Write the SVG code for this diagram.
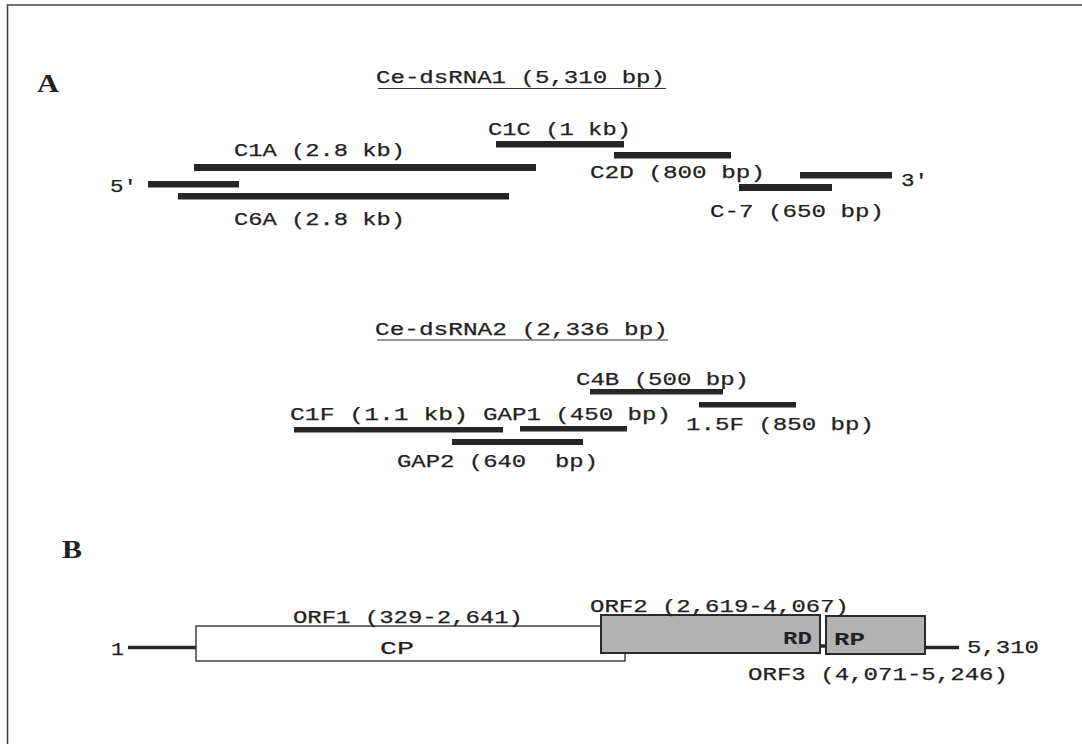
<svg xmlns="http://www.w3.org/2000/svg" width="1082" height="744" viewBox="0 0 1082 744">
<style>
.t{font-family:"Liberation Mono","DejaVu Sans Mono",monospace;font-size:19px;fill:#222;stroke:#222;stroke-width:0.25}
.b{font-family:"Liberation Mono","DejaVu Sans Mono",monospace;font-size:19px;font-weight:bold;fill:#222}
.p{font-family:"Liberation Serif","Times New Roman",serif;font-size:25px;font-weight:bold;fill:#222}
.bar{fill:#262626}
.ul{stroke:#333;stroke-width:1.2}
.box{stroke:#2a2a2a;stroke-width:2}
.ln{stroke:#262626;stroke-width:3.5}
</style>
<rect width="1082" height="744" fill="#fff"/>
<g id="frame" fill="none" stroke="#444" stroke-width="1.6">
<path d="M7.5,744 V5 H1082"/>
</g>
<g id="panelA">
<text class="p" x="37" y="92" textLength="22" lengthAdjust="spacingAndGlyphs">A</text>
<g id="title1">
<text class="t" x="376" y="83" textLength="289" lengthAdjust="spacingAndGlyphs">Ce-dsRNA1 (5,310 bp)</text>
<line class="ul" x1="378" y1="88.5" x2="666" y2="88.5"/>
</g>
<g id="C1C"><rect class="bar" x="496" y="141" width="128" height="6.5"/><text class="t" x="488" y="134.5" textLength="143" lengthAdjust="spacingAndGlyphs">C1C (1 kb)</text></g>
<g id="C1A"><rect class="bar" x="194" y="164" width="342" height="7"/><text class="t" x="234" y="155.5" textLength="171" lengthAdjust="spacingAndGlyphs">C1A (2.8 kb)</text></g>
<g id="C2D"><rect class="bar" x="614" y="152" width="117" height="6.5"/><text class="t" x="590" y="177.5" textLength="175" lengthAdjust="spacingAndGlyphs">C2D (800 bp)</text></g>
<g id="end5"><rect class="bar" x="148" y="181" width="91" height="6.5"/><text class="t" x="110" y="192" textLength="27" lengthAdjust="spacingAndGlyphs">5′</text></g>
<g id="end3"><rect class="bar" x="800" y="172" width="92" height="6.5"/><text class="t" x="901" y="186" textLength="27" lengthAdjust="spacingAndGlyphs">3′</text></g>
<g id="C6A"><rect class="bar" x="178" y="193" width="331" height="6.5"/><text class="t" x="234" y="224.5" textLength="171" lengthAdjust="spacingAndGlyphs">C6A (2.8 kb)</text></g>
<g id="C7"><rect class="bar" x="739" y="184" width="93" height="7"/><text class="t" x="710" y="217" textLength="174" lengthAdjust="spacingAndGlyphs">C-7 (650 bp)</text></g>
<g id="title2">
<text class="t" x="375" y="334.5" textLength="293" lengthAdjust="spacingAndGlyphs">Ce-dsRNA2 (2,336 bp)</text>
<line class="ul" x1="377" y1="340" x2="668" y2="340"/>
</g>
<g id="C4B"><rect class="bar" x="590" y="389" width="133" height="5.5"/><text class="t" x="576" y="385" textLength="173" lengthAdjust="spacingAndGlyphs">C4B (500 bp)</text></g>
<g id="F15"><rect class="bar" x="699" y="402" width="97" height="5.5"/><text class="t" x="686" y="430" textLength="188" lengthAdjust="spacingAndGlyphs">1.5F (850 bp)</text></g>
<g id="C1F"><rect class="bar" x="294" y="427" width="209" height="5.5"/><text class="t" x="290" y="419.5" textLength="178" lengthAdjust="spacingAndGlyphs">C1F (1.1 kb)</text></g>
<g id="GAP1"><rect class="bar" x="520" y="426" width="107" height="5.5"/><text class="t" x="483" y="419.5" textLength="188" lengthAdjust="spacingAndGlyphs">GAP1 (450 bp)</text></g>
<g id="GAP2"><rect class="bar" x="452" y="439" width="131" height="6"/><text class="t" x="397" y="467" textLength="201" lengthAdjust="spacingAndGlyphs" xml:space="preserve">GAP2 (640  bp)</text></g>
</g>
<g id="panelB">
<text class="p" x="62" y="558" textLength="20" lengthAdjust="spacingAndGlyphs">B</text>
<g id="start1"><text class="t" x="111" y="655" textLength="13" lengthAdjust="spacingAndGlyphs">1</text><line class="ln" x1="128" y1="647.5" x2="196" y2="647.5"/></g>
<g id="ORF1"><rect x="196" y="626" width="429" height="35" fill="#fff" stroke="#333" stroke-width="1.4"/><text class="t" x="293" y="623" textLength="230" lengthAdjust="spacingAndGlyphs">ORF1 (329-2,641)</text><text class="t" x="380" y="654" textLength="34" lengthAdjust="spacingAndGlyphs">CP</text></g>
<g id="ORF2"><rect class="box" x="601" y="615" width="219" height="38" fill="#b3b3b3"/><text class="t" x="590" y="612" textLength="259" lengthAdjust="spacingAndGlyphs">ORF2 (2,619-4,067)</text><text class="b" x="783" y="644" textLength="29" lengthAdjust="spacingAndGlyphs">RD</text></g>
<g id="ORF3"><rect class="box" x="826" y="616" width="99" height="38" fill="#b3b3b3"/><text class="t" x="748" y="680" textLength="260" lengthAdjust="spacingAndGlyphs">ORF3 (4,071-5,246)</text><text class="b" x="834" y="645" textLength="31" lengthAdjust="spacingAndGlyphs">RP</text></g>
<g id="connectors"><line class="ln" x1="820" y1="646" x2="826" y2="646"/><line class="ln" x1="925" y1="647.5" x2="959" y2="647.5"/></g>
<g id="end5310"><text class="t" x="967" y="653" textLength="72" lengthAdjust="spacingAndGlyphs">5,310</text></g>
</g>
</svg>
